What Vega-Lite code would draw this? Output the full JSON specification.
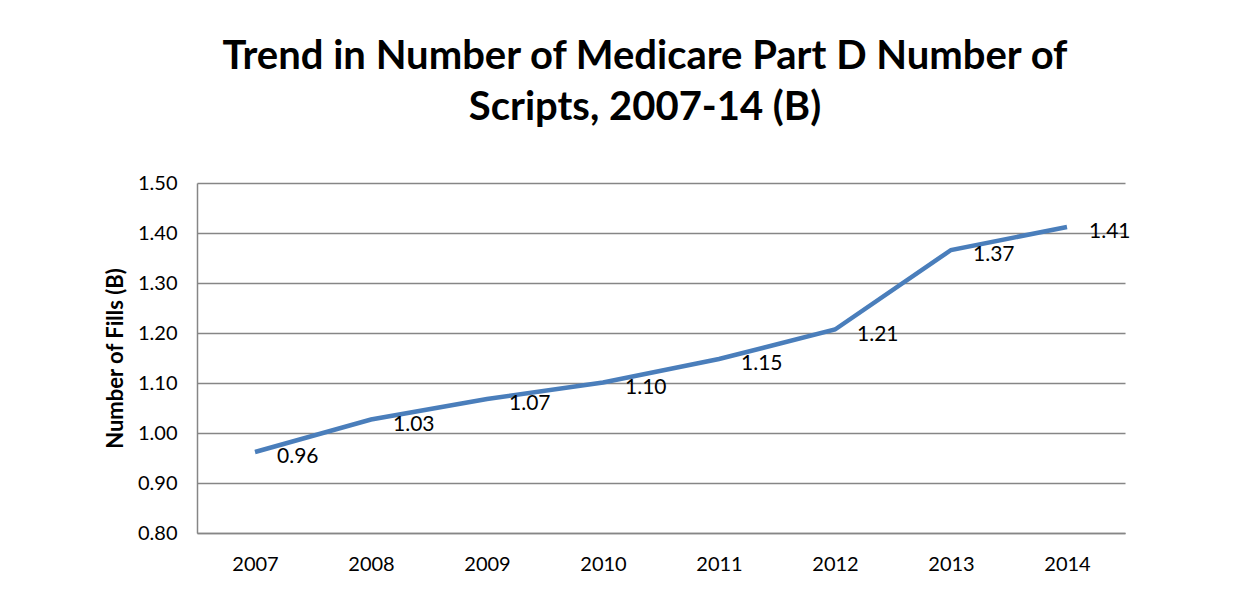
{
  "$schema": "https://vega.github.io/schema/vega-lite/v6.json",
  "width": 928,
  "height": 350,
  "autosize": {"type": "none"},
  "padding": {"left": 197, "top": 183, "right": 124, "bottom": 65},
  "background": "white",
  "config": {
    "view": {"stroke": null},
    "font": "Lato"
  },
  "title": {
    "text": ["Trend in Number of Medicare Part D Number of", "Scripts, 2007-14 (B)"],
    "font": "Lato",
    "fontSize": 40,
    "fontWeight": "bold",
    "color": "#000000",
    "anchor": "middle",
    "dx": -16,
    "offset": 45,
    "lineHeight": 51
  },
  "data": {
    "values": [
      {"year": "2007", "fills": 0.962},
      {"year": "2008", "fills": 1.027},
      {"year": "2009", "fills": 1.068},
      {"year": "2010", "fills": 1.101},
      {"year": "2011", "fills": 1.148},
      {"year": "2012", "fills": 1.207},
      {"year": "2013", "fills": 1.366},
      {"year": "2014", "fills": 1.412}
    ]
  },
  "encoding": {
    "x": {
      "field": "year",
      "type": "ordinal",
      "scale": {"type": "point", "padding": 0.5},
      "axis": {
        "title": null,
        "labelAngle": 0,
        "labelFontSize": 20,
        "labelColor": "#000000",
        "labelPadding": 21,
        "ticks": false,
        "domainColor": "#868686",
        "domainWidth": 1.5,
        "grid": false
      }
    },
    "y": {
      "field": "fills",
      "type": "quantitative",
      "scale": {"domain": [0.8, 1.5], "zero": false, "nice": false},
      "axis": {
        "title": "Number of Fills (B)",
        "titleFontSize": 22,
        "titleFontWeight": "bold",
        "titleColor": "#000000",
        "titlePadding": 10,
        "values": [0.8, 0.9, 1.0, 1.1, 1.2, 1.3, 1.4, 1.5],
        "format": ".2f",
        "labelFontSize": 20,
        "labelColor": "#000000",
        "labelPadding": 20,
        "ticks": false,
        "domainColor": "#868686",
        "domainWidth": 1.5,
        "grid": true,
        "gridColor": "#868686",
        "gridWidth": 1.5
      }
    }
  },
  "layer": [
    {
      "mark": {"type": "line", "color": "#4a7ebb", "strokeWidth": 4.5}
    },
    {
      "mark": {"type": "text", "align": "left", "baseline": "middle", "dx": 22, "dy": 5, "fontSize": 21, "color": "#000000"},
      "encoding": {
        "text": {"field": "fills", "type": "quantitative", "format": ".2f"}
      }
    }
  ]
}
